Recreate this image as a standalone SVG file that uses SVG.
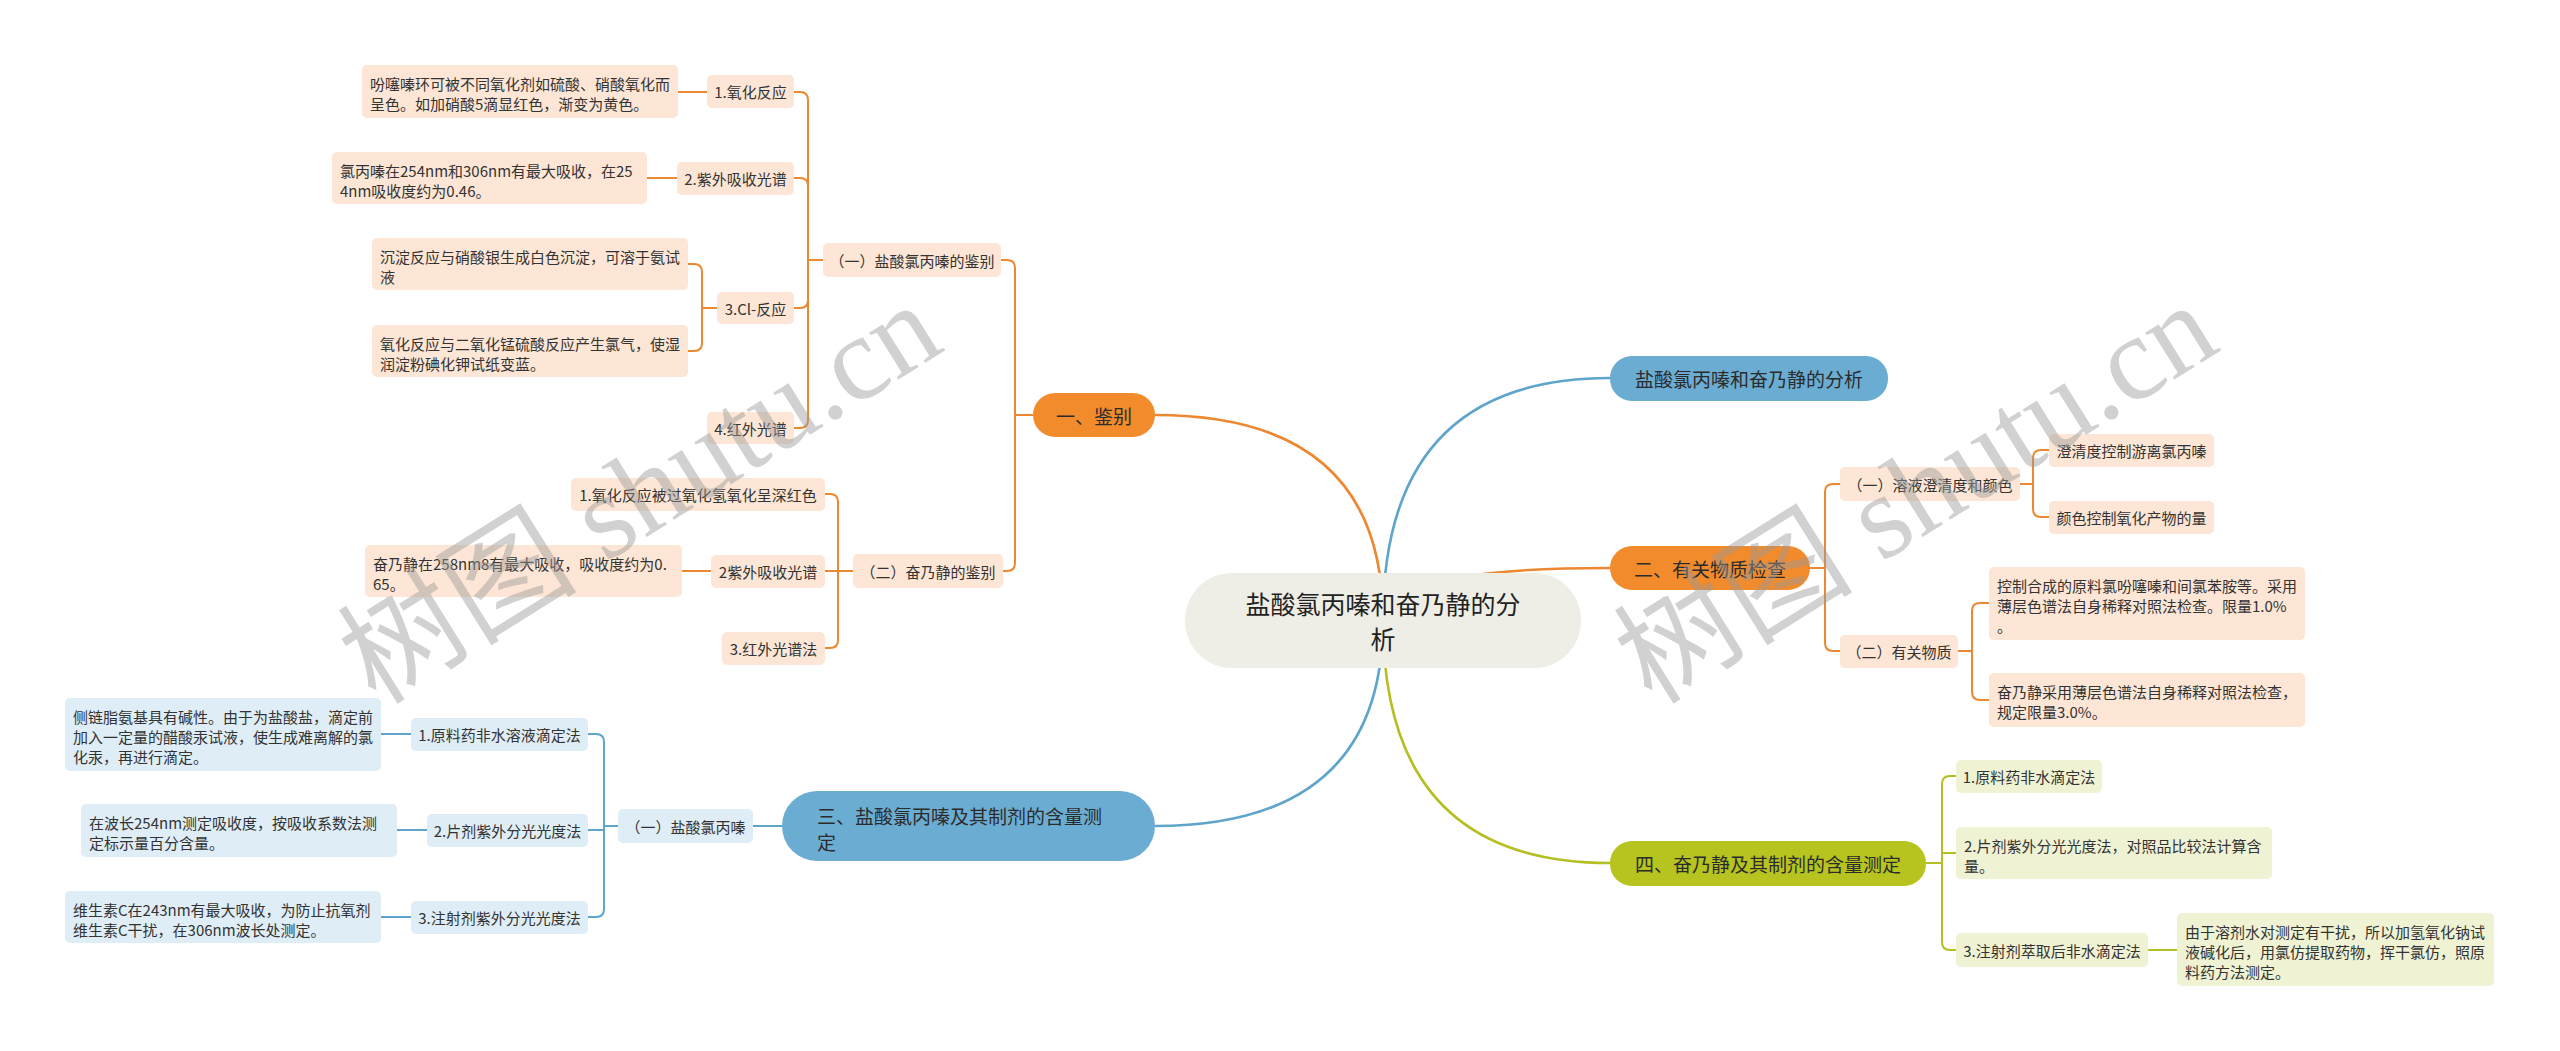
<svg xmlns="http://www.w3.org/2000/svg" width="2560" height="1051" viewBox="0 0 2560 1051">
<style>
.bg{fill:#ffffff}
.lo{fill:#fde6d5}
.lb{fill:#dfedf6}
.ly{fill:#eff2d3}
.mo{fill:#f28b2c}
.mb{fill:#6badd2}
.my{fill:#b7c41f}
.root{fill:#eeede6}
.t{font-family:"Noto Sans CJK SC","Noto Sans",sans-serif;font-size:15px;fill:#333333;dominant-baseline:central}
.c{text-anchor:middle}
.tm{font-size:19px;fill:#2b2b2b}
.tr{font-size:25px;fill:#222222}
.co{fill:none;stroke:#ec8832;stroke-width:2}
.cb{fill:none;stroke:#5fa5cb;stroke-width:2}
.cy{fill:none;stroke:#b3bf22;stroke-width:2}
.main{stroke-width:2.6}
.wm{font-family:"Liberation Serif","Noto Sans CJK SC",serif;font-size:120px;fill:#9a9a9a;opacity:0.45}
</style>
<rect class="bg" x="0" y="0" width="2560" height="1051"/>

<g id="connectors">
  <path class="co main" d="M1383 620 Q1383 415 1155 415"/>
  <path class="cb main" d="M1383 620 Q1383 378 1610 378"/>
  <path class="co main" d="M1383 620 Q1383 568 1610 568"/>
  <path class="cb main" d="M1383 620 Q1383 826 1155 826"/>
  <path class="cy main" d="M1383 620 Q1383 863 1610 863"/>
  <path class="co" d="M1033 415 H1015 V268 Q1015 260 1007 260 H1001"/>
  <path class="co" d="M1033 415 H1015 V563 Q1015 571 1007 571 H1003"/>
  <path class="co" d="M823 260 H808 V100 Q808 92 800 92 H794"/>
  <path class="co" d="M823 260 H808 V186 Q808 178 800 178 H794"/>
  <path class="co" d="M823 260 H808 V300 Q808 308 800 308 H794"/>
  <path class="co" d="M823 260 H808 V420 Q808 428 800 428 H794"/>
  <path class="co" d="M707 92 H678"/>
  <path class="co" d="M677 178 H647"/>
  <path class="co" d="M717 308 H702 V272 Q702 264 694 264 H688"/>
  <path class="co" d="M717 308 H702 V343 Q702 351 694 351 H688"/>
  <path class="co" d="M853 571 H838 V502 Q838 494 830 494 H825"/>
  <path class="co" d="M853 571 H825"/>
  <path class="co" d="M853 571 H838 V640 Q838 648 830 648 H825"/>
  <path class="co" d="M711 571 H682"/>
  <path class="cb" d="M782 826 H753"/>
  <path class="cb" d="M618 826 H604 V742 Q604 734 596 734 H588"/>
  <path class="cb" d="M618 826 H604 V830 H588"/>
  <path class="cb" d="M618 826 H604 V909 Q604 917 596 917 H588"/>
  <path class="cb" d="M411 734 H381"/>
  <path class="cb" d="M427 830 H397"/>
  <path class="cb" d="M411 917 H381"/>
  <path class="co" d="M1810 568 H1825 V492 Q1825 484 1833 484 H1840"/>
  <path class="co" d="M1810 568 H1825 V643 Q1825 651 1833 651 H1840"/>
  <path class="co" d="M2020 484 H2033 V458 Q2033 450 2041 450 H2049"/>
  <path class="co" d="M2020 484 H2033 V509 Q2033 517 2041 517 H2049"/>
  <path class="co" d="M1958 651 H1972 V611 Q1972 603 1980 603 H1989"/>
  <path class="co" d="M1958 651 H1972 V692 Q1972 700 1980 700 H1989"/>
  <path class="cy" d="M1926 863 H1942 V784 Q1942 776 1950 776 H1956"/>
  <path class="cy" d="M1926 863 H1942 V853 H1956"/>
  <path class="cy" d="M1926 863 H1942 V942 Q1942 950 1950 950 H1956"/>
  <path class="cy" d="M2148 950 H2177"/>
</g>

<g id="root">
  <rect class="root" x="1185" y="573" width="396" height="95" rx="47"/>
  <text class="t tr c" x="1383" y="603">盐酸氯丙嗪和奋乃静的分</text>
  <text class="t tr c" x="1383" y="638">析</text>
</g>

<g id="n-analysis">
  <rect class="mb" x="1610" y="356" width="278" height="45" rx="22"/>
  <text class="t tm c" x="1749" y="378">盐酸氯丙嗪和奋乃静的分析</text>
</g>

<g id="n-1">
  <rect class="mo" x="1033" y="393" width="122" height="44" rx="22"/>
  <text class="t tm c" x="1094" y="415">一、鉴别</text>
</g>
<g id="n-1-1">
  <rect class="lo" x="823" y="243" width="178" height="34" rx="5"/>
  <text class="t c" x="912" y="260">（一）盐酸氯丙嗪的鉴别</text>
</g>
<g id="n-1-1-1">
  <rect class="lo" x="707" y="75" width="87" height="33" rx="5"/>
  <text class="t c" x="750.5" y="91.5">1.氧化反应</text>
</g>
<g id="n-1-1-1-a">
  <rect class="lo" x="362" y="65" width="316" height="53" rx="5"/>
  <text class="t" x="370" y="83">吩噻嗪环可被不同氧化剂如硫酸、硝酸氧化而</text>
  <text class="t" x="370" y="103">呈色。如加硝酸5滴显红色，渐变为黄色。</text>
</g>
<g id="n-1-1-2">
  <rect class="lo" x="677" y="162" width="117" height="33" rx="5"/>
  <text class="t c" x="735.5" y="178.5">2.紫外吸收光谱</text>
</g>
<g id="n-1-1-2-a">
  <rect class="lo" x="332" y="152" width="315" height="52" rx="5"/>
  <text class="t" x="340" y="170">氯丙嗪在254nm和306nm有最大吸收，在25</text>
  <text class="t" x="340" y="190">4nm吸收度约为0.46。</text>
</g>
<g id="n-1-1-3">
  <rect class="lo" x="717" y="292" width="77" height="32" rx="5"/>
  <text class="t c" x="755.5" y="308">3.Cl-反应</text>
</g>
<g id="n-1-1-3-a">
  <rect class="lo" x="372" y="238" width="316" height="52" rx="5"/>
  <text class="t" x="380" y="256">沉淀反应与硝酸银生成白色沉淀，可溶于氨试</text>
  <text class="t" x="380" y="276">液</text>
</g>
<g id="n-1-1-3-b">
  <rect class="lo" x="372" y="325" width="316" height="52" rx="5"/>
  <text class="t" x="380" y="343">氧化反应与二氧化锰硫酸反应产生氯气，使湿</text>
  <text class="t" x="380" y="363">润淀粉碘化钾试纸变蓝。</text>
</g>
<g id="n-1-1-4">
  <rect class="lo" x="707" y="412" width="87" height="32" rx="5"/>
  <text class="t c" x="750.5" y="428">4.红外光谱</text>
</g>
<g id="n-1-2">
  <rect class="lo" x="853" y="554" width="150" height="34" rx="5"/>
  <text class="t c" x="928" y="571">（二）奋乃静的鉴别</text>
</g>
<g id="n-1-2-1">
  <rect class="lo" x="571" y="478" width="254" height="33" rx="5"/>
  <text class="t c" x="698" y="494.5">1.氧化反应被过氧化氢氧化呈深红色</text>
</g>
<g id="n-1-2-2">
  <rect class="lo" x="711" y="555" width="114" height="33" rx="5"/>
  <text class="t c" x="768" y="571.5">2紫外吸收光谱</text>
</g>
<g id="n-1-2-2-a">
  <rect class="lo" x="365" y="545" width="317" height="52" rx="5"/>
  <text class="t" x="373" y="563">奋乃静在258nm8有最大吸收，吸收度约为0.</text>
  <text class="t" x="373" y="583">65。</text>
</g>
<g id="n-1-2-3">
  <rect class="lo" x="722" y="632" width="103" height="33" rx="5"/>
  <text class="t c" x="773.5" y="648.5">3.红外光谱法</text>
</g>

<g id="n-3">
  <rect class="mb" x="782" y="791" width="373" height="70" rx="35"/>
  <text class="t tm" x="817" y="815">三、盐酸氯丙嗪及其制剂的含量测</text>
  <text class="t tm" x="817" y="841">定</text>
</g>
<g id="n-3-1">
  <rect class="lb" x="618" y="809" width="135" height="34" rx="5"/>
  <text class="t c" x="685.5" y="826">（一）盐酸氯丙嗪</text>
</g>
<g id="n-3-1-1">
  <rect class="lb" x="411" y="718" width="177" height="33" rx="5"/>
  <text class="t c" x="499.5" y="734.5">1.原料药非水溶液滴定法</text>
</g>
<g id="n-3-1-1-a">
  <rect class="lb" x="65" y="698" width="316" height="73" rx="5"/>
  <text class="t" x="73" y="716">侧链脂氨基具有碱性。由于为盐酸盐，滴定前</text>
  <text class="t" x="73" y="736">加入一定量的醋酸汞试液，使生成难离解的氯</text>
  <text class="t" x="73" y="756">化汞，再进行滴定。</text>
</g>
<g id="n-3-1-2">
  <rect class="lb" x="427" y="814" width="161" height="33" rx="5"/>
  <text class="t c" x="507.5" y="830.5">2.片剂紫外分光光度法</text>
</g>
<g id="n-3-1-2-a">
  <rect class="lb" x="81" y="804" width="316" height="53" rx="5"/>
  <text class="t" x="89" y="822">在波长254nm测定吸收度，按吸收系数法测</text>
  <text class="t" x="89" y="842">定标示量百分含量。</text>
</g>
<g id="n-3-1-3">
  <rect class="lb" x="411" y="901" width="177" height="33" rx="5"/>
  <text class="t c" x="499.5" y="917.5">3.注射剂紫外分光光度法</text>
</g>
<g id="n-3-1-3-a">
  <rect class="lb" x="65" y="891" width="316" height="52" rx="5"/>
  <text class="t" x="73" y="909">维生素C在243nm有最大吸收，为防止抗氧剂</text>
  <text class="t" x="73" y="929">维生素C干扰，在306nm波长处测定。</text>
</g>

<g id="n-2">
  <rect class="mo" x="1610" y="546" width="200" height="44" rx="22"/>
  <text class="t tm c" x="1710" y="568">二、有关物质检查</text>
</g>
<g id="n-2-1">
  <rect class="lo" x="1840" y="467" width="180" height="34" rx="5"/>
  <text class="t c" x="1930" y="484">（一）溶液澄清度和颜色</text>
</g>
<g id="n-2-1-1">
  <rect class="lo" x="2049" y="434" width="165" height="33" rx="5"/>
  <text class="t c" x="2131.5" y="450.5">澄清度控制游离氯丙嗪</text>
</g>
<g id="n-2-1-2">
  <rect class="lo" x="2049" y="501" width="165" height="33" rx="5"/>
  <text class="t c" x="2131.5" y="517.5">颜色控制氧化产物的量</text>
</g>
<g id="n-2-2">
  <rect class="lo" x="1840" y="635" width="118" height="33" rx="5"/>
  <text class="t c" x="1899" y="651.5">（二）有关物质</text>
</g>
<g id="n-2-2-1">
  <rect class="lo" x="1989" y="567" width="316" height="73" rx="5"/>
  <text class="t" x="1997" y="585">控制合成的原料氯吩噻嗪和间氯苯胺等。采用</text>
  <text class="t" x="1997" y="605">薄层色谱法自身稀释对照法检查。限量1.0%</text>
  <text class="t" x="1997" y="625">。</text>
</g>
<g id="n-2-2-2">
  <rect class="lo" x="1989" y="673" width="316" height="54" rx="5"/>
  <text class="t" x="1997" y="691">奋乃静采用薄层色谱法自身稀释对照法检查，</text>
  <text class="t" x="1997" y="711">规定限量3.0%。</text>
</g>

<g id="n-4">
  <rect class="my" x="1610" y="841" width="316" height="45" rx="22"/>
  <text class="t tm c" x="1768" y="863">四、奋乃静及其制剂的含量测定</text>
</g>
<g id="n-4-1">
  <rect class="ly" x="1956" y="760" width="146" height="33" rx="5"/>
  <text class="t c" x="2029" y="776.5">1.原料药非水滴定法</text>
</g>
<g id="n-4-2">
  <rect class="ly" x="1956" y="827" width="316" height="52" rx="5"/>
  <text class="t" x="1964" y="845">2.片剂紫外分光光度法，对照品比较法计算含</text>
  <text class="t" x="1964" y="865">量。</text>
</g>
<g id="n-4-3">
  <rect class="ly" x="1956" y="933" width="192" height="34" rx="5"/>
  <text class="t c" x="2052" y="950">3.注射剂萃取后非水滴定法</text>
</g>
<g id="n-4-3-a">
  <rect class="ly" x="2177" y="913" width="317" height="73" rx="5"/>
  <text class="t" x="2185" y="931">由于溶剂水对测定有干扰，所以加氢氧化钠试</text>
  <text class="t" x="2185" y="951">液碱化后，用氯仿提取药物，挥干氯仿，照原</text>
  <text class="t" x="2185" y="971">料药方法测定。</text>
</g>

<g id="watermark">
  <text class="wm" transform="translate(376 706) rotate(-32)">树图 shutu.cn</text>
  <text class="wm" transform="translate(1652 706) rotate(-32)">树图 shutu.cn</text>
</g>
</svg>
